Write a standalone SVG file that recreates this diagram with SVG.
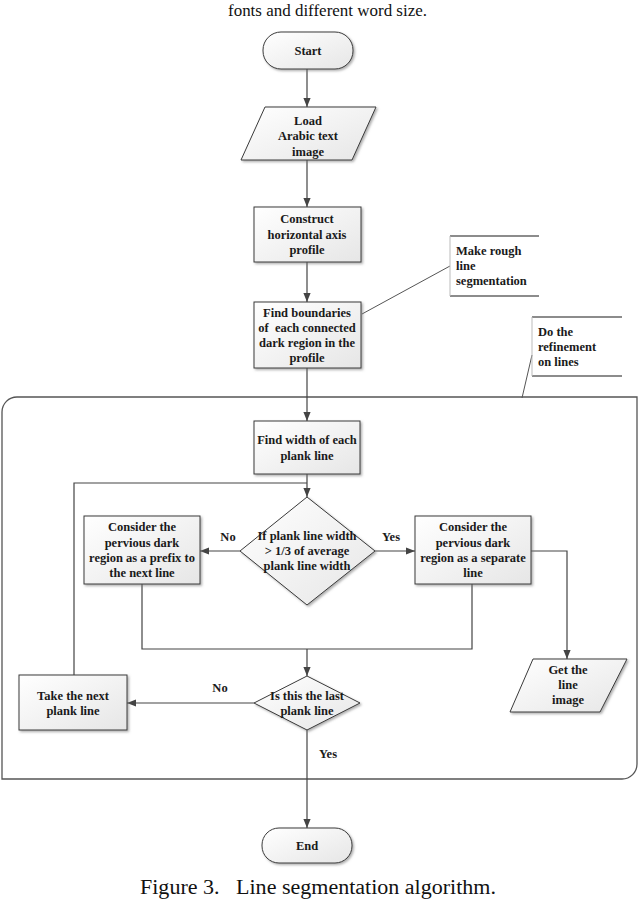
<svg xmlns="http://www.w3.org/2000/svg" width="640" height="899" viewBox="0 0 640 899">
<style>
.node{fill:url(#g);stroke:#3a3a3a;stroke-width:1;filter:url(#sh)}
.t{font-family:"Liberation Serif","Times New Roman",serif;font-weight:bold;font-size:12.5px;fill:#1a1a1a;text-anchor:middle}
.ta{font-family:"Liberation Serif","Times New Roman",serif;font-weight:bold;font-size:12.5px;fill:#1a1a1a}
.c{fill:none;stroke:#444;stroke-width:1.2}
.ca{fill:none;stroke:#444;stroke-width:1.2;marker-end:url(#ah)}
.cap{font-family:"Liberation Serif","Times New Roman",serif;font-size:20px;fill:#111}
</style>
<defs>
<linearGradient id="g" x1="0" y1="0" x2="1" y2="1">
<stop offset="0" stop-color="#ffffff"/>
<stop offset="1" stop-color="#e6e6e6"/>
</linearGradient>
<filter id="sh" x="-10%" y="-10%" width="130%" height="130%">
<feDropShadow dx="1.5" dy="1.5" stdDeviation="0.8" flood-color="#777" flood-opacity="0.6"/>
</filter>
<marker id="ah" viewBox="0 0 10 8" refX="10" refY="4" markerWidth="9" markerHeight="8" markerUnits="userSpaceOnUse" orient="auto">
<path d="M0,0 L10,4 L0,8 z" fill="#444"/>
</marker>
</defs>
<rect width="640" height="899" fill="#fff"/>
<text class="cap" x="228" y="16" font-size="17" style="font-size:17px" textLength="199" lengthAdjust="spacingAndGlyphs">fonts and different word size.</text>

<g id="container">
<path d="M2,412 A15,15 0 0 1 17,397 H637 V764 A15,15 0 0 1 622,779 H2 Z" fill="none" stroke="#555" stroke-width="1.3"/>
</g>

<g id="connectors">
<line class="ca" x1="307" y1="69" x2="307" y2="107"/>
<line class="ca" x1="307" y1="160" x2="307" y2="207"/>
<line class="ca" x1="307" y1="262" x2="307" y2="302"/>
<line class="ca" x1="307" y1="368" x2="307" y2="421"/>
<line class="ca" x1="307" y1="474" x2="307" y2="497"/>
<polyline class="c" points="74,675 74,483 307,483"/>
<line class="ca" x1="240" y1="551" x2="200" y2="551"/>
<line class="ca" x1="375" y1="551" x2="415" y2="551"/>
<polyline class="c" points="142,584 142,649 472,649 472,584"/>
<line class="ca" x1="307" y1="649" x2="307" y2="676"/>
<polyline class="ca" points="531,551 567,551 567,659"/>
<line class="ca" x1="254" y1="703" x2="127" y2="703"/>
<line class="ca" x1="307" y1="730" x2="307" y2="828"/>
<line x1="362" y1="314" x2="450" y2="266" stroke="#555" stroke-width="1"/>
<line x1="532" y1="355" x2="522" y2="398" stroke="#555" stroke-width="1"/>
<text class="t" x="228" y="541">No</text>
<text class="t" x="391" y="541">Yes</text>
<text class="t" x="220" y="692">No</text>
<text class="t" x="328" y="758">Yes</text>
</g>

<g id="start">
<rect class="node" x="263" y="32" width="90" height="37" rx="18"/>
<text class="t" x="308" y="55">Start</text>
</g>
<g id="load">
<polygon class="node" points="265,107 376,107 352,160 241,160"/>
<text class="t" x="308" y="125">Load</text>
<text class="t" x="308" y="140">Arabic text</text>
<text class="t" x="308" y="156">image</text>
</g>
<g id="construct">
<rect class="node" x="254" y="207" width="107" height="55"/>
<text class="t" x="307" y="223">Construct</text>
<text class="t" x="307" y="239">horizontal axis</text>
<text class="t" x="307" y="254">profile</text>
</g>
<g id="boundaries">
<rect class="node" x="254" y="302" width="107" height="66"/>
<text class="t" x="307" y="317">Find boundaries</text>
<text class="t" x="307" y="332" xml:space="preserve">of  each connected</text>
<text class="t" x="307" y="347">dark region in the</text>
<text class="t" x="307" y="362">profile</text>
</g>
<g id="note-rough">
<line x1="450" y1="236" x2="539" y2="236" stroke="#666" stroke-width="1.6"/>
<line x1="450" y1="296" x2="539" y2="296" stroke="#666" stroke-width="1.6"/>
<line x1="450" y1="236" x2="450" y2="296" stroke="#bbb" stroke-width="1"/>
<text class="ta" x="456" y="255">Make rough</text>
<text class="ta" x="456" y="270">line</text>
<text class="ta" x="456" y="285">segmentation</text>
</g>
<g id="note-refine">
<line x1="532" y1="317" x2="622" y2="317" stroke="#666" stroke-width="1.6"/>
<line x1="532" y1="376" x2="622" y2="376" stroke="#666" stroke-width="1.6"/>
<line x1="532" y1="317" x2="532" y2="376" stroke="#bbb" stroke-width="1"/>
<text class="ta" x="538" y="336">Do the</text>
<text class="ta" x="538" y="351">refinement</text>
<text class="ta" x="538" y="366">on lines</text>
</g>
<g id="findwidth">
<rect class="node" x="254" y="421" width="106" height="53"/>
<text class="t" x="307" y="444">Find width of each</text>
<text class="t" x="307" y="460">plank line</text>
</g>
<g id="decision1">
<polygon class="node" points="307,497 375,551 307,605 240,551"/>
<text class="t" x="307" y="540">If plank line width</text>
<text class="t" x="307" y="555">&gt; 1/3 of average</text>
<text class="t" x="307" y="570">plank line width</text>
</g>
<g id="prefix">
<rect class="node" x="84" y="516" width="116" height="68"/>
<text class="t" x="142" y="531">Consider the</text>
<text class="t" x="142" y="547">pervious dark</text>
<text class="t" x="142" y="562">region as a prefix to</text>
<text class="t" x="142" y="577">the next line</text>
</g>
<g id="separate">
<rect class="node" x="415" y="516" width="116" height="68"/>
<text class="t" x="473" y="531">Consider the</text>
<text class="t" x="473" y="547">pervious dark</text>
<text class="t" x="473" y="562">region as a separate</text>
<text class="t" x="473" y="577">line</text>
</g>
<g id="getline">
<polygon class="node" points="533,659 627,659 600,712 510,712"/>
<text class="t" x="568" y="674">Get the</text>
<text class="t" x="568" y="689">line</text>
<text class="t" x="568" y="704">image</text>
</g>
<g id="decision2">
<polygon class="node" points="307,676 360,703 307,730 254,703"/>
<text class="t" x="307" y="700">Is this the last</text>
<text class="t" x="307" y="715">plank line</text>
</g>
<g id="takenext">
<rect class="node" x="19" y="675" width="108" height="55"/>
<text class="t" x="73" y="700">Take the next</text>
<text class="t" x="73" y="715">plank line</text>
</g>
<g id="end">
<rect class="node" x="262" y="828" width="90" height="35" rx="17"/>
<text class="t" x="307" y="850">End</text>
</g>
<text class="cap" x="140" y="894" textLength="356" lengthAdjust="spacingAndGlyphs" xml:space="preserve">Figure 3.   Line segmentation algorithm.</text>
</svg>
